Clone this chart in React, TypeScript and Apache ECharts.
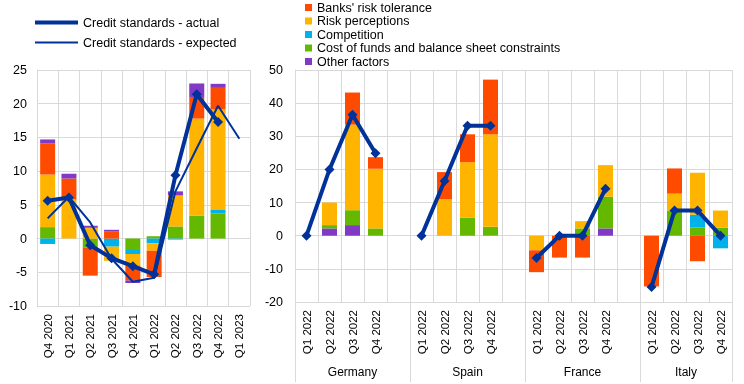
import React, { useEffect, useRef } from 'react';
import * as echarts from 'echarts';

const FONT = 'Liberation Sans, Arial, sans-serif';
const GRID = '#D9D9D9';

const C_BANKS = '#FF4B00';
const C_RISK = '#FFB400';
const C_COMP = '#00B1EA';
const C_COST = '#65B800';
const C_OTHER = '#8139C6';
const C_LINE = '#003299';

const N_BANKS = "Banks' risk tolerance";
const N_RISK = 'Risk perceptions';
const N_COMP = 'Competition';
const N_COST = 'Cost of funds and balance sheet constraints';
const N_OTHER = 'Other factors';
const N_ACTUAL = 'Credit standards - actual';
const N_EXPECTED = 'Credit standards - expected';

// Left panel (euro area)
const leftCategories = ['Q4 2020', 'Q1 2021', 'Q2 2021', 'Q3 2021', 'Q4 2021', 'Q1 2022', 'Q2 2022', 'Q3 2022', 'Q4 2022', 'Q1 2023'];
const leftCostOfFunds = [1.7, 0, -1.3, 0, -1.7, 0.35, 1.8, 3.4, 3.7, null];
const leftCompetition = [-0.8, 0, 0, -1.2, -0.6, -0.7, -0.15, 0, 0.55, null];
const leftRiskPerceptions = [7.8, 5.8, 1.6, -2.1, -1.7, -1.1, 4.6, 14.4, 14.9, null];
const leftBanksRisk = [4.6, 3.1, -4.2, 1.1, -2.2, -3.9, 0, 3.2, 3.2, null];
const leftOther = [0.6, 0.7, 0.3, 0.2, -0.4, 0, 0.6, 2.0, 0.6, null];
const leftActual = [5.6, 6.1, -1.0, -2.9, -4.1, -5.3, 9.4, 21.4, 17.3, null];
const leftExpected = [3.0, 6.2, 2.4, -3.0, -6.4, -5.8, 7.0, 13.4, 19.7, 14.8];

// Right panel (countries x quarters: Germany, Spain, France, Italy)
const countries = ['Germany', 'Spain', 'France', 'Italy'];
const quarters = ['Q1 2022', 'Q2 2022', 'Q3 2022', 'Q4 2022'];
const rightOther = [0, 2.2, 3.2, 0, 0, 0, 0, 0, 0, 0, 0, 2.2, 0, 0, 0, 0];
const rightCostOfFunds = [0, 1.0, 4.5, 2.2, 0, 0, 5.4, 2.7, 0, 0, 2.2, 9.6, 0, 7.6, 2.5, 2.4];
const rightCompetition = [0, 0, 0, 0, 0, 0, 0, 0, 0, 0, 0, 0, 0, 0, 3.8, -3.8];
const rightRiskPerceptions = [0, 6.8, 25.8, 18.0, 0, 11.0, 16.8, 27.9, -4.4, 0, 2.2, 9.5, 0, 5.1, 12.7, 5.2];
const rightBanksRisk = [0, 0, 9.7, 3.5, 0, 8.2, 8.4, 16.5, -6.6, -6.6, -6.6, 0, -15.3, 7.6, -7.7, 0];
const rightActual = [0, 20, 36.5, 24.9, 0, 16.5, 33.2, 33.2, -6.7, 0, 0, 14.2, -15.5, 7.6, 7.6, 0];

// group label positions on the helper value axis (in category units)
const groupCenters = [2.5, 7.5, 12.5, 17];
const groupBounds = [0, 5, 10, 15, 19];

function withGaps(arr: (number | null)[], keepZero: boolean) {
  const out: (number | null)[] = [];
  for (let c = 0; c < countries.length; c++) {
    for (let q = 0; q < quarters.length; q++) {
      const v = arr[c * quarters.length + q];
      out.push(!keepZero && v === 0 ? null : v);
    }
    if (c < countries.length - 1) out.push(null);
  }
  return out;
}

function nz(arr: (number | null)[]) {
  return arr.map((v) => (v === 0 ? null : v));
}

const rightCategories: string[] = [];
countries.forEach((_, c) => {
  quarters.forEach((q) => rightCategories.push(q));
  if (c < countries.length - 1) rightCategories.push('');
});

export default function App() {
  const ref = useRef<HTMLDivElement>(null);
  useEffect(() => {
    if (!ref.current) return;
    const chart = echarts.init(ref.current, null, { renderer: 'svg' });
    const labelStyle = { color: '#000', fontFamily: FONT };
    const catAxisBase = {
      type: 'category' as const,
      axisLine: { lineStyle: { color: GRID } },
      axisTick: { show: false },
      axisLabel: { rotate: 90, interval: 0, fontSize: 11.5, margin: 8, ...labelStyle },
      splitLine: { show: true, interval: 0, lineStyle: { color: GRID } },
    };
    const barBase = { type: 'bar' as const, barWidth: 15 };
    const option: any = {
      animation: false,
      textStyle: { fontFamily: FONT },
      legend: [
        {
          data: [
            { name: N_ACTUAL, itemStyle: { opacity: 0 }, lineStyle: { width: 4 } },
            { name: N_EXPECTED, itemStyle: { opacity: 0 }, lineStyle: { width: 2 } },
          ],
          orient: 'vertical',
          left: 33,
          top: 16,
          padding: 0,
          itemWidth: 43,
          itemHeight: 10,
          itemGap: 7,
          textStyle: { fontSize: 12.5, ...labelStyle },
        },
        {
          data: [N_BANKS, N_RISK, N_COMP, N_COST, N_OTHER],
          orient: 'vertical',
          left: 305,
          top: 1,
          padding: 0,
          icon: 'rect',
          itemWidth: 7,
          itemHeight: 7,
          itemGap: 0.5,
          textStyle: { fontSize: 12.5, lineHeight: 12, ...labelStyle },
        },
      ],
      grid: [
        { left: 37, top: 70, width: 213, height: 236 },
        { left: 295, top: 70, width: 437, height: 232 },
      ],
      xAxis: [
        { ...catAxisBase, gridIndex: 0, data: leftCategories },
        { ...catAxisBase, gridIndex: 1, data: rightCategories },
        {
          type: 'value',
          gridIndex: 1,
          min: 0,
          max: 19,
          position: 'bottom',
          axisLine: { show: false },
          axisTick: { show: true, customValues: groupBounds, length: 80, lineStyle: { color: GRID } },
          axisLabel: {
            customValues: groupCenters,
            formatter: (v: number) => {
              const i = groupCenters.indexOf(v);
              return i >= 0 ? countries[i] : '';
            },
            margin: 64,
            fontSize: 12,
            ...labelStyle,
          },
          splitLine: { show: false },
        },
      ],
      yAxis: [
        {
          type: 'value',
          gridIndex: 0,
          min: -10,
          max: 25,
          interval: 5,
          axisLine: { show: true, lineStyle: { color: GRID } },
          axisTick: { show: false },
          axisLabel: { fontSize: 12.5, margin: 10, ...labelStyle },
          splitLine: { lineStyle: { color: GRID } },
        },
        {
          type: 'value',
          gridIndex: 1,
          min: -20,
          max: 50,
          interval: 10,
          axisLine: { show: true, lineStyle: { color: GRID } },
          axisTick: { show: false },
          axisLabel: { fontSize: 12.5, margin: 12, ...labelStyle },
          splitLine: { lineStyle: { color: GRID } },
        },
      ],
      series: [
        // left panel bars
        { ...barBase, name: N_COST, xAxisIndex: 0, yAxisIndex: 0, stack: 'L', data: nz(leftCostOfFunds), itemStyle: { color: C_COST } },
        { ...barBase, name: N_COMP, xAxisIndex: 0, yAxisIndex: 0, stack: 'L', data: nz(leftCompetition), itemStyle: { color: C_COMP } },
        { ...barBase, name: N_RISK, xAxisIndex: 0, yAxisIndex: 0, stack: 'L', data: nz(leftRiskPerceptions), itemStyle: { color: C_RISK } },
        { ...barBase, name: N_BANKS, xAxisIndex: 0, yAxisIndex: 0, stack: 'L', data: nz(leftBanksRisk), itemStyle: { color: C_BANKS } },
        { ...barBase, name: N_OTHER, xAxisIndex: 0, yAxisIndex: 0, stack: 'L', data: nz(leftOther), itemStyle: { color: C_OTHER } },
        // right panel bars
        { ...barBase, name: N_OTHER, xAxisIndex: 1, yAxisIndex: 1, stack: 'R', data: withGaps(rightOther, false), itemStyle: { color: C_OTHER } },
        { ...barBase, name: N_COST, xAxisIndex: 1, yAxisIndex: 1, stack: 'R', data: withGaps(rightCostOfFunds, false), itemStyle: { color: C_COST } },
        { ...barBase, name: N_COMP, xAxisIndex: 1, yAxisIndex: 1, stack: 'R', data: withGaps(rightCompetition, false), itemStyle: { color: C_COMP } },
        { ...barBase, name: N_RISK, xAxisIndex: 1, yAxisIndex: 1, stack: 'R', data: withGaps(rightRiskPerceptions, false), itemStyle: { color: C_RISK } },
        { ...barBase, name: N_BANKS, xAxisIndex: 1, yAxisIndex: 1, stack: 'R', data: withGaps(rightBanksRisk, false), itemStyle: { color: C_BANKS } },
        // lines
        {
          type: 'line',
          name: N_EXPECTED,
          xAxisIndex: 0,
          yAxisIndex: 0,
          data: leftExpected,
          symbol: 'none',
          lineStyle: { color: C_LINE, width: 2 },
          itemStyle: { color: C_LINE },
          z: 5,
        },
        {
          type: 'line',
          name: N_ACTUAL,
          xAxisIndex: 0,
          yAxisIndex: 0,
          data: leftActual,
          symbol: 'diamond',
          symbolSize: 10,
          lineStyle: { color: C_LINE, width: 4 },
          itemStyle: { color: C_LINE },
          z: 6,
        },
        {
          type: 'line',
          name: N_ACTUAL,
          xAxisIndex: 1,
          yAxisIndex: 1,
          data: withGaps(rightActual, true),
          connectNulls: false,
          symbol: 'diamond',
          symbolSize: 10,
          lineStyle: { color: C_LINE, width: 4 },
          itemStyle: { color: C_LINE },
          z: 6,
        },
      ],
    };
    chart.setOption(option);
    return () => chart.dispose();
  }, []);
  return <div ref={ref} style={{ position: 'fixed', left: 0, top: 0, width: 744, height: 384 }} />;
}
